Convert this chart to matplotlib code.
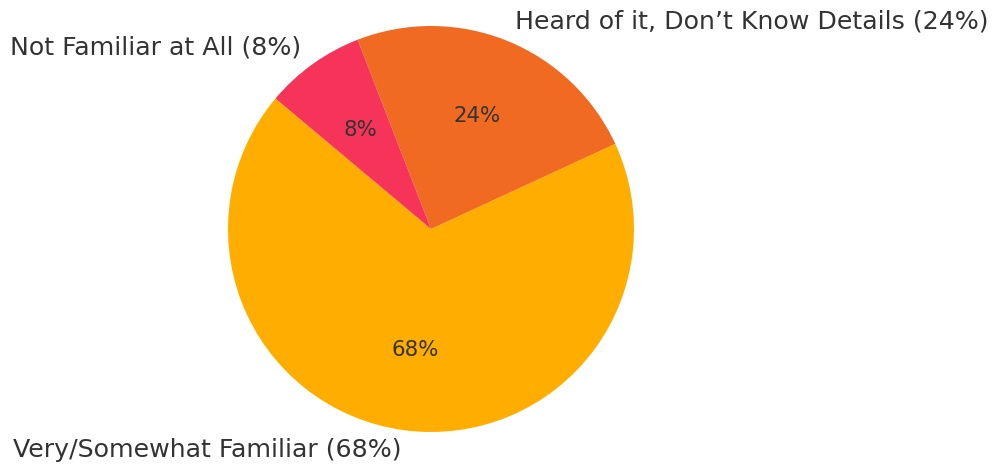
import matplotlib
matplotlib.use("Agg")
import matplotlib.pyplot as plt

categories = ["Very/Somewhat Familiar", "Heard of it, Don\u2019t Know Details", "Not Familiar at All"]
values = [68, 24, 8]
colors = ["#FFAE00", "#F06A21", "#F6345A"]

labels = [f"{c} ({v}%)" for c, v in zip(categories, values)]

W, H = 993, 468
fig = plt.figure(figsize=(W / 100, H / 100), dpi=100)
S = 507.5
cx, cy = 431, 229
ax = fig.add_axes([(cx - S / 2) / W, (H - cy - S / 2) / H, S / W, S / H])

wedges, texts, autotexts = ax.pie(
    values, labels=labels, colors=colors, startangle=140,
    autopct="%1.0f%%", pctdistance=0.6, labeldistance=1.1,
    textprops={"color": "#333333"},
)
for t in texts:
    t.set_fontsize(18.2)
for t in autotexts:
    t.set_fontsize(15.3)
ax.set_xlim(-1.25, 1.25)
ax.set_ylim(-1.25, 1.25)
ax.set_aspect("equal")

fig.savefig("out.png", dpi=100)
